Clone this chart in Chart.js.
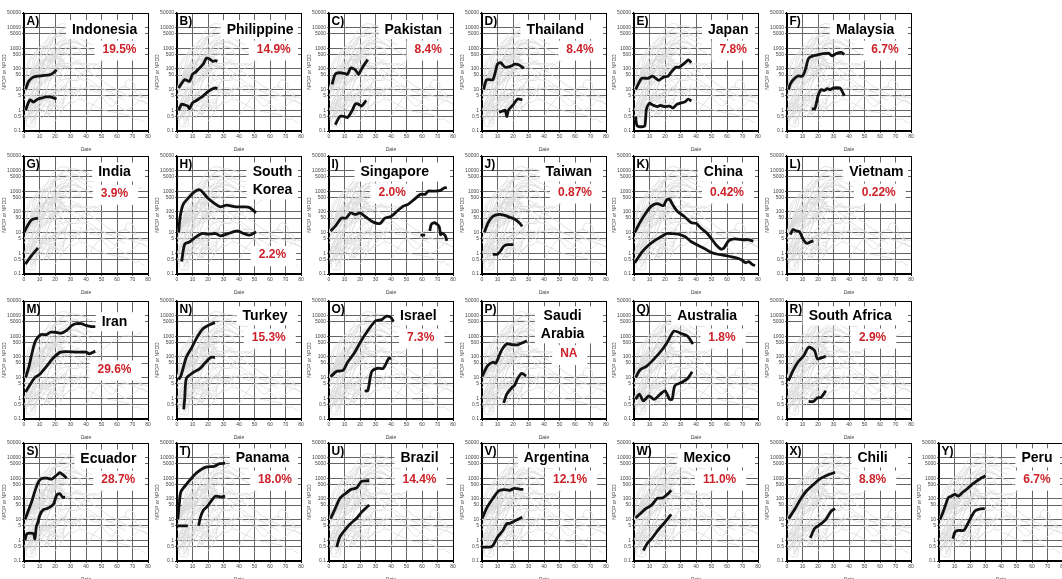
<!DOCTYPE html>
<html>
<head>
<meta charset="utf-8">
<script src="https://cdn.jsdelivr.net/npm/chart.js@4.4.0/dist/chart.umd.min.js"></script>
<style>
    body {
        margin: 0;
        background: #fff;
        width: 1062px;
        height: 579px;
        overflow: hidden;
        position: relative;
        font-family: "Liberation Sans", Arial, sans-serif;
    }
    .panel { position: absolute; }
</style>
</head>
<body>
<script>
// axes
const xTicks = [0, 10, 20, 30, 40, 50, 60, 70, 80];
const yTicks = [0.1, 0.5, 1, 5, 10, 50, 100, 500, 1000, 5000, 10000, 50000];

const letters = ["A", "B", "C", "D", "E", "F", "G", "H", "I", "J", "K", "L", "M",
    "N", "O", "P", "Q", "R", "S", "T", "U", "V", "W", "X", "Y"];
const countries = [["Indonesia"], ["Philippine"], ["Pakistan"], ["Thailand"], ["Japan"], ["Malaysia"],
    ["India"], ["South", "Korea"], ["Singapore"], ["Taiwan"], ["China"], ["Vietnam"],
    ["Iran"], ["Turkey"], ["Israel"], ["Saudi", "Arabia"], ["Australia"], ["South Africa"],
    ["Ecuador"], ["Panama"], ["Brazil"], ["Argentina"], ["Mexico"], ["Chili"], ["Peru"]];
const rates = ["19.5%", "14.9%", "8.4%", "8.4%", "7.8%", "6.7%",
    "3.9%", "2.2%", "2.0%", "0.87%", "0.42%", "0.22%",
    "29.6%", "15.3%", "7.3%", "NA", "1.8%", "2.9%",
    "28.7%", "18.0%", "14.4%", "12.1%", "11.0%", "8.8%", "6.7%"];

// [day, value] - NPDP (upper) and NPDD (lower)
const indonesiaUp = [[1,10],[3,25],[6,40],[9,45],[12,47],[15,50],[17,53],[19,65],[21,90]];
const indonesiaLo = [[1,1],[3,2.5],[4,3.3],[6,2.5],[9,3.5],[12,4],[14,4.4],[17,4.4],[19,4],[21,3.5]];
const philippineUp = [[1,12],[3,20],[5,30],[8,25],[10,55],[12,70],[14,100],[17,175],[19,330],[21,300],[23,230],[25,250],[26,230]];
const philippineLo = [[1,1],[3,2],[5,1.8],[7,1.6],[8,1.2],[10,2.3],[12,2.8],[14,3.5],[17,5],[20,8],[23,11],[25,12],[26,11]];
const pakistanUp = [[2,18],[4,55],[7,65],[10,60],[12,55],[14,110],[17,90],[19,55],[21,100],[23,170],[25,280]];
const pakistanLo = [[4,0.2],[7,0.5],[10,0.5],[12,0.45],[15,1],[17,2],[19,2],[21,1.6],[24,3]];
const thailandUp = [[1,10],[3,30],[7,30],[10,170],[12,200],[15,120],[19,140],[21,170],[24,155],[27,105]];
const thailandLo = [[11,0.8],[13,0.9],[15,1],[16,0.5],[17,1],[20,1.8],[23,3.5],[26,3.2]];
const japanUp = [[1,10],[3,20],[5,35],[9,35],[12,45],[16,28],[19,40],[22,45],[24,70],[27,120],[29,120],[33,200],[35,270],[37,200]];
const japanLo = [[1,0.5],[2,0.18],[5,0.16],[7,0.18],[8,1.1],[10,2.2],[12,1.8],[15,1.5],[17,1.7],[20,1.5],[23,1.6],[25,1.3],[28,2],[33,2.6],[35,3.5],[37,2.8]];
const malaysiaUp = [[1,10],[2,18],[4,30],[7,45],[10,45],[12,100],[14,330],[17,430],[21,500],[25,560],[27,560],[29,430],[32,560],[35,620],[37,500]];
const malaysiaLo = [[16,1.2],[18,1.2],[20,5],[22,10],[24,9],[26,11],[28,10],[30,12],[34,12],[35,10],[37,5]];
const indiaUp = [[0,10],[2,20],[4,35],[6,45],[9,50]];
const indiaLo = [[1,0.3],[3,0.5],[5,0.8],[7,1.2],[9,1.8]];
const koreaUp = [[1,10],[2,55],[4,230],[8,530],[11,900],[14,1200],[16,1000],[20,450],[25,230],[28,175],[32,210],[38,175],[44,175],[47,160],[51,90]];
const koreaLo = [[3,0.4],[5,2.8],[8,3.5],[12,6],[16,9],[20,8.5],[25,9],[28,7],[33,9],[39,12],[43,9],[47,7.5],[51,11]];
const singaporeUp = [[1,12],[4,20],[8,50],[11,50],[14,90],[17,75],[20,90],[24,55],[28.6,32],[33,28],[36,50],[40,60],[44,110],[48,190],[51,230],[55,400],[59,700],[62,700],[64,1000],[68,1000],[72,1100],[74,1400],[76,1500]];
const singaporeLo = [[59,7.5],[62,7.5],[63,null],[65,12],[66,25],[68,30],[71,20],[72,8],[73,9.5],[75,7],[76,4]];
const taiwanUp = [[1.5,10],[4,30],[7,60],[11,75],[14,70],[18,55],[21,45],[24,30],[26,20]];
const taiwanLo = [[7,0.9],[10,0.9],[12,1.3],[14,2.2],[16.5,2.6],[20,2.6]];
const chinaUp = [[0.5,10],[3.5,28],[7,75],[11,185],[15,250],[19,200],[21,380],[23,400],[25,220],[28,105],[32.5,60],[37,30],[40,28],[43,17],[47,9.5],[50,5],[53,2.5],[56,1.6],[58,1.8],[61,4],[65,5],[70,4.5],[74,4.5],[77,3.8]];
const chinaLo = [[0.5,0.35],[5,1.1],[9,2.3],[13.5,4.2],[18,6.7],[21,9],[24,9],[28.5,8.5],[33,6.3],[37,3.6],[41.5,2.4],[46,1.6],[50,1.1],[54,0.9],[58,0.8],[62,0.7],[66,0.6],[69,0.5],[72,0.35],[74,0.4],[76,0.3],[78,0.25]];
const vietnamUp = [[2,8],[4,14],[6,12],[8,11],[11,4],[13,3],[15,3.5],[17,4]];
const vietnamLo = [];
const iranUp = [[1,10],[3,30],[5,135],[7,500],[9,900],[11,1200],[14.5,1200],[17,1550],[20,1550],[24,1400],[27.5,1900],[31,3300],[34,4000],[37,4000],[40,3300],[43.5,2900],[46,2900]];
const iranLo = [[1,2],[4,4.7],[7,10],[10,14],[14.5,35],[19,90],[23.5,170],[27.5,180],[34,170],[40,170],[42,140],[46,190]];
const turkeyUp = [[1,8],[2.5,12],[6,95],[9.6,290],[13,900],[16.7,2300],[20,3300],[24.5,4500]];
const turkeyLo = [[4.3,0.29],[5,1],[6,9],[9.6,16],[15,28],[18.5,55],[22,95],[24.5,95]];
const israelUp = [[1,11],[5,20],[9,22],[12,55],[16,140],[19.6,420],[23,1100],[27,3000],[30,5500],[34,6300],[37,9200],[40,8000],[41.5,5000]];
const israelLo = [[23,2.3],[25,2.3],[27.5,19],[31,28],[35,28],[38.5,85],[40,85]];
const saudiUp = [[0,11],[3.5,37],[7,55],[9,50],[12.5,200],[16,420],[19.6,390],[23,380],[26.7,500],[29,600]];
const saudiLo = [[14,0.6],[16,1.6],[19.6,3.5],[21,4.2],[23,9],[25.6,16],[28.5,12]];
const australiaUp = [[1,10],[4,24],[8,35],[13,80],[18.5,240],[22,600],[25.7,1750],[31,1300],[34.6,1000],[38,420]];
const australiaLo = [[1,0.9],[3.5,1.6],[6,0.75],[9.6,1.3],[13,0.9],[17,1.6],[20,2.3],[23,0.9],[24.6,0.9],[26.4,4.1],[31,6],[34.6,9],[37.5,19]];
const southAfricaUp = [[1,7],[3.5,19],[7,55],[10.7,110],[14,290],[17.8,200],[19.6,80],[23,95],[25,110]];
const southAfricaLo = [[14,0.7],[17,0.7],[19.6,1.05],[22,1.1],[25,2.3]];
const ecuadorUp = [[0.6,10],[3,30],[5,75],[7,230],[9,600],[11,950],[14.6,1000],[18,900],[20,1200],[22,1600],[23,1850],[25.4,1400],[27.5,1000]];
const ecuadorLo = [[0.6,1],[2,2.1],[6,2.1],[7,1.2],[8,4.8],[9,7.5],[10.3,17],[12.5,30],[15.7,36],[19,55],[21,150],[23,180],[25,120],[26.5,120]];
const panamaUp = [[0.5,10],[1.5,60],[2.5,220],[6,500],[9.6,1050],[13,1900],[18.5,3400],[24,3700],[27.5,5000],[31,5300]];
const panamaLo = [[0,5],[7,5],[8,null],[14,5],[15,12],[17,28],[19.6,44],[23.5,110],[25,135],[29,125],[31,135]];
const brazilUp = [[1,11],[4,34],[7,105],[11,190],[14,280],[17.8,340],[21,700],[25,750],[26,750]];
const brazilLo = [[5,0.47],[7,1.45],[11,3.7],[14,6.5],[17.8,11.5],[21,23],[25,44],[26,50]];
const argentinaUp = [[0,11],[3.5,42],[7,105],[10.7,240],[14,280],[17.8,260],[21,320],[25,290],[26.7,290]];
const argentinaLo = [[0,0.47],[5,0.47],[7,0.55],[10,1.4],[13.5,3],[16,6.5],[17.8,6.5],[21,8.5],[25,12],[26,13]];
const mexicoUp = [[1,12],[4,19],[7.8,35],[11.4,50],[15,105],[18.5,110],[22,180],[24,260]];
const mexicoLo = [[6,0.32],[8.5,0.7],[11.4,1.2],[15,2.8],[18.5,5.6],[22,11.5],[24,18]];
const chiliUp = [[1,11],[5.3,34],[9,105],[12.5,240],[16,420],[21,900],[27,1500],[31,1900]];
const chiliLo = [[15,1.3],[17.8,3.7],[21,5.6],[25,10],[28.5,26],[31,34]];
const peruUp = [[0.6,10],[2.4,21],[4,45],[6,115],[8,135],[10.3,165],[12.5,135],[15,200],[18,300],[20.4,440],[24,700],[27,1000],[30,1300]];
const peruLo = [[9,1.2],[10.3,2.5],[12.5,3],[16,3],[18,5.3],[20.4,12],[23,25],[25,30],[29.5,35]];

const upperSeries = [indonesiaUp, philippineUp, pakistanUp, thailandUp, japanUp, malaysiaUp,
    indiaUp, koreaUp, singaporeUp, taiwanUp, chinaUp, vietnamUp,
    iranUp, turkeyUp, israelUp, saudiUp, australiaUp, southAfricaUp,
    ecuadorUp, panamaUp, brazilUp, argentinaUp, mexicoUp, chiliUp, peruUp];
const lowerSeries = [indonesiaLo, philippineLo, pakistanLo, thailandLo, japanLo, malaysiaLo,
    indiaLo, koreaLo, singaporeLo, taiwanLo, chinaLo, vietnamLo,
    iranLo, turkeyLo, israelLo, saudiLo, australiaLo, southAfricaLo,
    ecuadorLo, panamaLo, brazilLo, argentinaLo, mexicoLo, chiliLo, peruLo];

// other countries shown only as the grey background
const otherLines = [
    [[0,1],[5,8],[10,80],[15,600],[20,3000],[25,8000],[30,12000],[35,11000],[40,8000],[45,5000],[50,3000]],
    [[2,0.5],[6,3],[10,30],[14,300],[18,2000],[22,6000],[26,9000],[30,8000],[34,6000],[38,4000]],
    [[0,3],[4,10],[8,60],[12,400],[16,1500],[20,4000],[24,6000],[28,5500],[32,4500],[36,3000],[40,2000],[44,1500]],
    [[1,0.3],[5,1],[9,8],[13,60],[17,400],[21,1500],[25,3000],[29,3500],[33,2500],[37,1500]],
    [[3,2],[7,15],[11,100],[15,500],[19,1200],[23,2000],[27,2500],[31,2200],[35,1800],[39,1200],[43,800]],
    [[0,5],[4,20],[8,150],[12,900],[16,3500],[20,9000],[24,15000],[28,14000],[32,10000]],
    [[2,1],[6,4],[10,20],[14,90],[18,400],[22,1000],[26,1800],[30,2000],[34,1700],[38,1300],[42,900],[46,600],[50,400]],
    [[5,0.2],[9,1],[13,5],[17,30],[21,150],[25,500],[29,900],[33,1100],[37,900]],
    [[10,2],[14,20],[18,150],[22,500],[26,600],[30,400],[35,200],[40,100],[45,50],[50,30],[55,15],[60,10],[65,6],[70,4],[75,3],[80,2]],
    [[0,0.5],[5,2],[10,10],[15,40],[20,100],[25,150],[30,120],[35,80],[40,40],[45,20],[50,12],[55,8],[60,10],[65,14],[70,9],[75,5],[80,4]],
    [[20,0.3],[25,1],[30,3],[35,8],[40,12],[45,15],[50,12],[55,8],[60,5],[65,3]],
    [[40,0.5],[45,2],[50,5],[55,4],[60,2],[65,1],[70,1.5],[75,3],[80,2]]
];

// layout: frame left per column, frame top per row
const frameCols = [24, 176.5, 329, 481.5, 634, 786.5, 939];
const frameRows = [13, 156, 301, 443];
// where the country name / rate sit, as fractions of the plot box
const nameSpots = [[0.65,0.145],[0.67,0.145],[0.68,0.145],[0.59,0.145],[0.76,0.145],[0.63,0.145],
    [0.73,0.14],[0.77,0.14],[0.53,0.14],[0.70,0.14],[0.72,0.14],[0.72,0.14],
    [0.73,0.18],[0.71,0.13],[0.72,0.13],[0.65,0.13],[0.59,0.13],[0.51,0.13],
    [0.68,0.14],[0.69,0.13],[0.73,0.13],[0.60,0.13],[0.59,0.13],[0.69,0.13],[0.79,0.13]];
const rateSpots = [[0.77,0.31],[0.78,0.31],[0.80,0.31],[0.79,0.31],[0.80,0.31],[0.79,0.31],
    [0.73,0.32],[0.77,0.84],[0.51,0.31],[0.75,0.31],[0.75,0.31],[0.74,0.31],
    [0.73,0.58],[0.74,0.31],[0.74,0.31],[0.70,0.45],[0.71,0.31],[0.69,0.31],
    [0.76,0.31],[0.79,0.31],[0.73,0.31],[0.71,0.31],[0.69,0.31],[0.69,0.31],[0.79,0.31]];

const FONT = '"Liberation Sans", Arial, sans-serif';
const greyPool = upperSeries.concat(lowerSeries, otherLines);

function panelBoxes(chart, i) {
    const ctx = chart.ctx;
    const a = chart.chartArea;
    const w = a.right - a.left, h = a.bottom - a.top;
    const boxes = [];

    ctx.font = "bold 14px " + FONT;
    const lines = countries[i];
    const nw = Math.max(...lines.map(t => ctx.measureText(t).width));
    const nx = a.left + nameSpots[i][0] * w;
    const ny = a.top + nameSpots[i][1] * h;
    boxes.push({
        l: nx - nw / 2 - 6, r: a.right - 3,
        t: Math.max(a.top + 1.5, ny - 10), b: ny + (lines.length - 1) * 18 + 9
    });

    ctx.font = "bold 12px " + FONT;
    const rw = ctx.measureText(rates[i]).width;
    const rx = a.left + rateSpots[i][0] * w;
    const ry = a.top + rateSpots[i][1] * h;
    boxes.push({
        l: rx - rw / 2 - 8, r: Math.min(rx + rw / 2 + 10, a.right - 3),
        t: ry - 9, b: ry + 11
    });
    return boxes;
}

const panelText = {
    id: "panelText",
    beforeDatasetDraw(chart, args, opts) {
        // white label boxes sit above the grid and grey lines, below the black ones
        if (args.index !== 1) return;
        const ctx = chart.ctx;
        ctx.save();
        ctx.fillStyle = "#fff";
        panelBoxes(chart, opts.i).forEach(b => ctx.fillRect(b.l, b.t, b.r - b.l, b.b - b.t));
        ctx.restore();
    },
    afterDraw(chart, args, opts) {
        const i = opts.i;
        const ctx = chart.ctx;
        const a = chart.chartArea;
        const w = a.right - a.left, h = a.bottom - a.top;
        ctx.save();
        ctx.textBaseline = "middle";

        ctx.fillStyle = "#000";
        ctx.textAlign = "left";
        ctx.font = "bold 12px " + FONT;
        ctx.fillText(letters[i] + ")", a.left + 2.5, a.top + 9);

        ctx.textAlign = "center";
        ctx.font = "bold 14px " + FONT;
        countries[i].forEach((t, k) => {
            ctx.fillText(t, a.left + nameSpots[i][0] * w, a.top + nameSpots[i][1] * h + k * 18);
        });

        ctx.fillStyle = "#cc2229";
        ctx.font = "bold 12px " + FONT;
        ctx.fillText(rates[i], a.left + rateSpots[i][0] * w, a.top + rateSpots[i][1] * h);
        ctx.restore();
    }
};

function edgeColor(ends) {
    return c => (c.tick && ends.includes(c.tick.value)) ? "#000" : "#666";
}

letters.forEach((letter, i) => {
    const col = i < 18 ? i % 6 : i - 18;
    const row = i < 18 ? Math.floor(i / 6) : 3;

    const canvas = document.createElement("canvas");
    canvas.className = "panel";
    canvas.width = 152;
    canvas.height = 144;
    canvas.style.width = "152px";
    canvas.style.height = "144px";
    canvas.style.left = (frameCols[col] - 22) + "px";
    canvas.style.top = (frameRows[row] - 4) + "px";
    document.body.appendChild(canvas);

    const datasets = [
        { data: upperSeries[i], borderColor: "#111", borderWidth: 2.8, tension: 0.25 },
        { data: lowerSeries[i], borderColor: "#111", borderWidth: 2.8, tension: 0.25 }
    ];
    greyPool.forEach(g => {
        datasets.push({ data: g, borderColor: "#dadada", borderWidth: 0.8, tension: 0.3 });
    });

    new Chart(canvas, {
        type: "line",
        data: { datasets },
        options: {
            responsive: false,
            animation: false,
            events: [],
            spanGaps: false,
            elements: { point: { radius: 0 } },
            layout: { padding: { top: 4, right: 6, left: 0, bottom: 0 } },
            plugins: {
                legend: { display: false },
                tooltip: { enabled: false },
                panelText: { i }
            },
            scales: {
                x: {
                    type: "linear",
                    min: 0,
                    max: 80,
                    afterBuildTicks: s => { s.ticks = xTicks.map(v => ({ value: v })); },
                    afterFit: s => { s.height = 22; },
                    grid: { color: edgeColor([0, 80]), lineWidth: 1, tickLength: 2 },
                    border: { color: "#000", width: 1.2 },
                    ticks: { font: { size: 5, family: FONT }, color: "#444", padding: 1, maxRotation: 0 },
                    title: {
                        display: true, text: "Date", color: "#444",
                        font: { size: 5, style: "italic", family: FONT }, padding: { top: 3, bottom: 0 }
                    }
                },
                y: {
                    type: "logarithmic",
                    min: 0.1,
                    max: 50000,
                    afterBuildTicks: s => { s.ticks = yTicks.map(v => ({ value: v })); },
                    afterFit: s => { s.width = 22; },
                    grid: { color: edgeColor([0.1, 50000]), lineWidth: 1, tickLength: 2 },
                    border: { color: "#000", width: 1.2 },
                    ticks: {
                        font: { size: 5, family: FONT }, color: "#444", padding: 1,
                        callback: v => String(v)
                    },
                    title: {
                        display: true, text: "NPDP or NPDD", color: "#444",
                        font: { size: 5, family: FONT }, padding: { top: 0, bottom: 1 }
                    }
                }
            }
        },
        plugins: [panelText]
    });
});
</script>
</body>
</html>
